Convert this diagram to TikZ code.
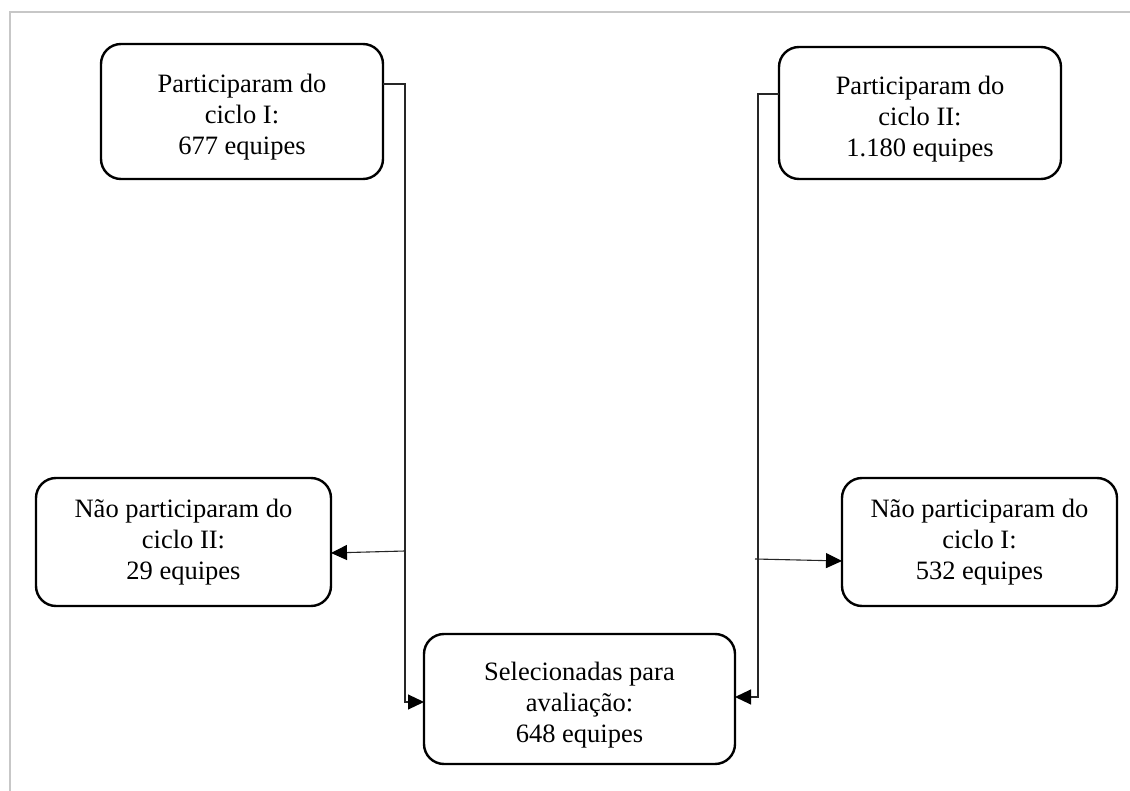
\documentclass[tikz,border=0pt]{standalone}
\usepackage{fontspec}
\setmainfont{Liberation Serif}
\usetikzlibrary{arrows.meta}
\newcommand{\lowstrut}{\rule{0pt}{30pt}}
\tikzset{
  box/.style={draw=black, line width=2.4pt, rounded corners=20pt, align=center,
    inner sep=0pt, outer sep=0pt, font=\fontsize{26.5}{31}\selectfont},
  conn/.style={draw=black!85, line width=1.1pt},
  arr/.style={conn, -{Triangle[length=16pt,width=15pt,color=black]}},
  frame/.style={draw=black!22, line width=1.6pt}
}
\begin{document}
\begin{tikzpicture}[x=1pt,y=-1pt]
\useasboundingbox (0,0) rectangle (1130,791);
\draw[frame] (10,791) -- (10,12) -- (1130,12);

\node[box, minimum width=282pt, minimum height=135pt] (A) at (242,111.5)
  {\lowstrut Participaram do\\ciclo I:\\677 equipes};
\node[box, minimum width=282pt, minimum height=132pt] (B) at (920,113)
  {\lowstrut Participaram do\\ciclo II:\\1.180 equipes};
\node[box, minimum width=295pt, minimum height=128pt] (C) at (183.5,542)
  {Não participaram do\\ciclo II:\\29 equipes};
\node[box, minimum width=275pt, minimum height=128pt] (E) at (979.5,542)
  {Não participaram do\\ciclo I:\\532 equipes};
\node[box, minimum width=311pt, minimum height=130pt] (D) at (579.5,699)
  {\lowstrut Selecionadas para\\avaliação:\\648 equipes};

% left branch
\coordinate (a1) at (A.east |- 0,84);
\coordinate (a2) at (405,84);
\coordinate (a3) at (405,702);
\coordinate (jl) at (405,551);
\draw[arr] (a1) -- (a2) -- (a3) -- (D.west |- a3);
\draw[arr] (jl) -- ([yshift=-11pt]C.east);

% right branch
\coordinate (b1) at (B.west |- 0,94);
\coordinate (b2) at (758,94);
\coordinate (b3) at (758,697);
\coordinate (jr) at (755,559);
\draw[arr] (b1) -- (b2) -- (b3) -- (D.east |- b3);
\draw[arr] (jr) -- ([yshift=-19pt]E.west);
\end{tikzpicture}
\end{document}
